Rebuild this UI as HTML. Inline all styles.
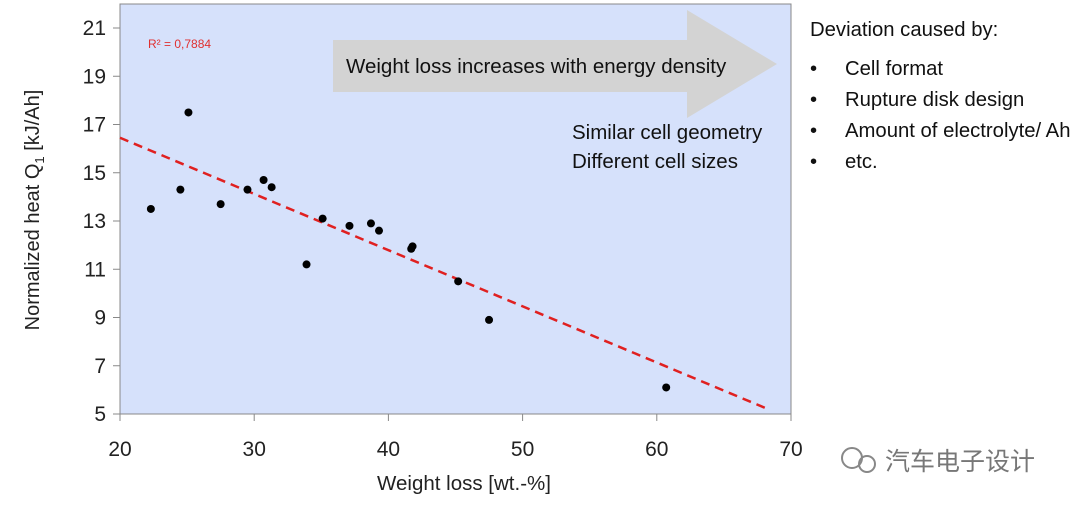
<!DOCTYPE html>
<html><head><meta charset="utf-8"><style>
body{margin:0;background:#fff;width:1080px;height:509px;overflow:hidden;font-family:"Liberation Sans","Noto Sans CJK SC",sans-serif;}
svg text{font-family:"Liberation Sans","Noto Sans CJK SC",sans-serif;}
</style></head><body>
<svg id="chart" width="1080" height="509">
<rect x="120" y="4" width="671" height="410" fill="#d6e1fb" stroke="#888"/>
<polygon points="333,40 687,40 687,10 777,64 687,118 687,92 333,92" fill="#d3d3d3"/>
<text x="346" y="73" font-size="20.5" fill="#111">Weight loss increases with energy density</text>
<text x="572" y="139" font-size="20.5" fill="#111">Similar cell geometry</text>
<text x="572" y="168" font-size="20.5" fill="#111">Different cell sizes</text>
<text x="148" y="48" font-size="12" fill="#e03030">R² = 0,7884</text>
<g id="axes"></g>
<g id="marks"></g>
<text x="464" y="490" font-size="20.5" text-anchor="middle" fill="#222">Weight loss [wt.-%]</text>
<text transform="translate(39,210) rotate(-90)" font-size="20" text-anchor="middle" fill="#222">Normalized heat Q<tspan font-size="13" dy="5">1</tspan><tspan dy="-5"> [kJ/Ah]</tspan></text>
<g font-size="20.3" fill="#111">
<text x="810" y="36">Deviation caused by:</text>
<text x="810" y="75">•</text><text x="845" y="75">Cell format</text>
<text x="810" y="106">•</text><text x="845" y="106">Rupture disk design</text>
<text x="810" y="137">•</text><text x="845" y="137">Amount of electrolyte/ Ah</text>
<text x="810" y="168">•</text><text x="845" y="168">etc.</text>
</g>
<g>
<circle cx="852" cy="458" r="10" fill="none" stroke="#888" stroke-width="2"/>
<circle cx="867" cy="464" r="8" fill="none" stroke="#888" stroke-width="2"/>
<text x="885" y="470" font-size="25" fill="#777">汽车电子设计</text>
</g>
</svg>
<script>
const xTicks=[20,30,40,50,60,70];
const yTicks=[5,7,9,11,13,15,17,19,21];
const xVals=[22.3,24.5,25.1,27.5,29.5,30.7,31.3,33.9,35.1,37.1,38.7,39.3,41.7,41.8,45.2,47.5,60.7];
const yVals=[13.5,14.3,17.5,13.7,14.3,14.7,14.4,11.2,13.1,12.8,12.9,12.6,11.85,11.95,10.5,8.9,6.1];
const trendX=[20,68.3];
const trendY=[16.45,5.2];
const NS="http://www.w3.org/2000/svg";
const sx=v=>120+(v-20)*671/50;
const sy=v=>414-(v-5)*386/16;
const axes=document.getElementById('axes'),marks=document.getElementById('marks');
function mk(tag,attrs,parent){const e=document.createElementNS(NS,tag);for(const k in attrs)e.setAttribute(k,attrs[k]);parent.appendChild(e);return e;}
xTicks.forEach(t=>{
 const l=mk('line',{x1:sx(t),x2:sx(t),y1:414,y2:421,stroke:'#888'},axes);
 
 
 const tx=mk('text',{x:sx(t),y:456,'font-size':21,'text-anchor':'middle',fill:'#222'},axes);
 tx.textContent=t;
 
 
});
yTicks.forEach(t=>{
 const l=mk('line',{x1:113,x2:120,y1:sy(t),y2:sy(t),stroke:'#888'},axes);
 
 
 const tx=mk('text',{x:106,y:sy(t)+7,'font-size':21,'text-anchor':'end',fill:'#222'},axes);
 tx.textContent=t;
 
 
});
const tl=mk('line',{x1:sx(trendX[0]),y1:sy(trendY[0]),x2:sx(trendX[1]),y2:sy(trendY[1]),stroke:'#e02020','stroke-width':2.5,'stroke-dasharray':'9,6'},marks);


xVals.forEach((x,i)=>{
 const c=mk('circle',{cx:sx(x),cy:sy(yVals[i]),r:4,fill:'#000'},marks);
 
 
});
</script>
</body></html>
